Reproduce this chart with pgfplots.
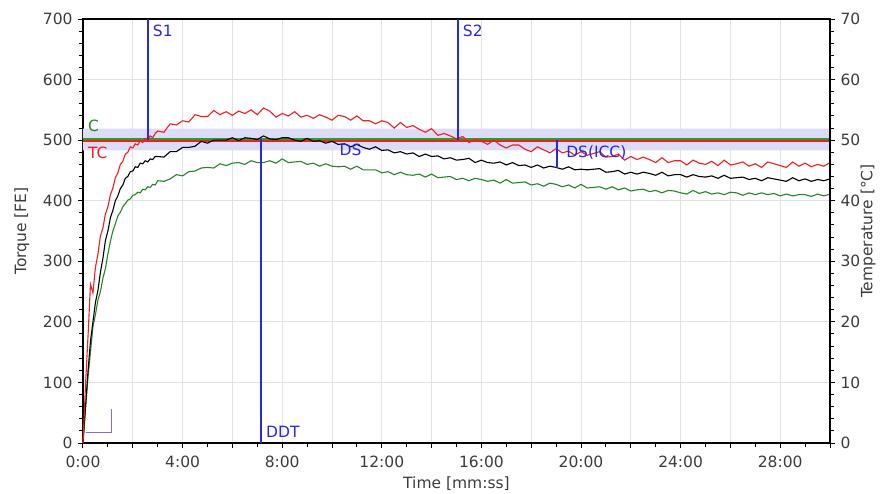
\documentclass[border=0pt]{standalone}
\usepackage{fontspec}
\setmainfont{DejaVu Sans}
\usepackage{pgfplots}
\pgfplotsset{compat=1.18}
\usepackage{pgfplotstable}
\definecolor{cred}{RGB}{240,30,30}
\definecolor{cgreen}{RGB}{35,135,35}
\definecolor{chl}{RGB}{40,160,40}
\definecolor{cblue}{RGB}{40,40,225}
\definecolor{cband}{RGB}{220,220,246}
\definecolor{cgrid}{RGB}{226,226,226}
\definecolor{ctext}{RGB}{60,60,60}
\definecolor{cstep}{RGB}{135,105,230}
\newcommand{\fs}{\fontsize{15.5bp}{18bp}\selectfont}
\pgfplotstableread{
t R B G
0.0 0 0 0
0.1 95 60 55
0.2 175 118 108
0.3 262 168 150
0.4 248 200 192
0.5 290 232 212
0.6 312 252 236
0.7 342 282 250
0.8 355 305 272
0.9 378 334 288
1.0 390 350 312
1.1 410 372 333
1.2 421 384 350
1.3 438 400 362
1.4 446 408 375
1.5 460 420 381
1.6 465 426 390
1.7 477 437 395
1.8 480 440 401
1.9 489 448 403
2.0 487 449 409
2.1 494 456 410
2.2 492 455 414
2.3 499 462 413
2.4 496 461 419
2.5 503 466 418
2.6 499 464 423
2.7 507 469 422
2.8 504 468 427
2.9 511 473 426
3.00 515 473 433
3.25 513 472 432
3.50 527 481 436
3.75 525 481 443
4.00 532 488 441
4.25 530 488 448
4.50 542 490 449
4.75 539 498 454
5.00 539 495 455
5.25 549 500 454
5.50 542 500 461
5.75 547 500 458
6.00 541 504 462
6.25 548 499 463
6.50 544 504 460
6.75 550 503 466
7.00 542 501 463
7.25 553 507 463
7.50 548 502 466
7.75 538 501 462
8.00 544 504 469
8.25 540 504 463
8.50 547 500 464
8.75 538 498 465
9.00 541 503 460
9.25 536 498 462
9.50 542 499 457
9.75 538 495 461
10.00 533 498 457
10.25 541 493 456
10.50 539 494 457
10.75 533 489 452
11.00 540 493 457
11.25 532 488 451
11.50 532 485 451
11.75 527 489 451
12.00 532 483 446
12.25 529 484 448
12.50 520 479 443
12.75 529 481 447
13.00 521 477 443
13.25 524 479 442
13.50 518 473 444
13.75 513 477 439
14.00 519 473 444
14.25 508 474 438
14.50 511 469 439
14.75 507 471 440
15.00 502 467 435
15.25 506 468 437
15.50 496 470 433
15.75 502 463 437
16.00 498 467 435
16.25 493 463 432
16.50 500 462 434
16.75 492 464 429
17.00 487 459 435
17.25 492 463 429
17.50 492 458 430
17.75 485 459 431
18.00 481 455 426
18.25 489 459 428
18.50 484 454 424
18.75 479 457 429
19.00 486 455 427
19.25 479 452 423
19.50 482 456 426
19.75 475 451 421
20.00 481 452 427
20.25 475 451 421
20.50 478 452 422
20.75 481 453 423
21.00 472 447 419
21.25 473 448 423
21.50 477 450 418
21.75 467 444 421
22.00 473 447 416
22.25 468 444 418
22.50 472 447 419
22.75 468 445 415
23.00 463 442 417
23.25 471 447 413
23.50 463 441 417
23.75 466 443 416
24.00 466 443 413
24.25 459 439 411
24.50 467 443 417
24.75 462 440 412
25.00 460 439 415
25.25 465 441 411
25.50 458 437 413
25.75 467 442 410
26.00 459 437 414
26.25 461 438 413
26.50 464 439 409
26.75 457 435 413
27.00 461 437 410
27.25 455 433 413
27.50 464 438 410
27.75 461 436 412
28.00 458 434 408
28.25 455 432 411
28.50 464 438 408
28.75 457 433 410
29.00 462 436 410
29.25 456 432 407
29.50 460 435 411
29.75 457 433 408
30.00 463 436 411
}\curves
\begin{document}
\begin{tikzpicture}
\useasboundingbox (-83bp,-51bp) rectangle (797bp,443bp);
\begin{axis}[
  at={(0,0)}, anchor=south west,
  scale only axis, width=747bp, height=424bp,
  xmin=0, xmax=30, ymin=0, ymax=700,
  xtick pos=left, ytick pos=left, tick align=outside,
  xtick={0,2,...,30},
  xticklabels={0:00,,4:00,,8:00,,12:00,,16:00,,20:00,,24:00,,28:00,},
  minor x tick num=1,
  ytick={0,100,...,700}, minor y tick num=4,
  /pgf/number format/assume math mode=true,
  grid=major, major grid style={cgrid, line width=0.9bp},
  axis line style={line width=1.6bp, black},
  major tick length=5bp, minor tick length=4bp,
  every tick/.style={black, line width=1bp},
  tick label style={font=\fs, text=ctext},
  yticklabel style={xshift=-2bp},
  xticklabel shift=4bp,
  label style={font=\fs, text=ctext},
  xlabel={Time [mm:ss]}, ylabel={Torque [FE]},
  xlabel style={at={(axis description cs:0.5,-0.097)}, anchor=center},
  ylabel style={at={(axis description cs:-0.082,0.5)}, anchor=center},
  clip=false,
]
\addplot[draw=none, fill=cband] coordinates {(0,483) (30,483) (30,519) (0,519) (0,483)};
\addplot[chl, line width=2bp] coordinates {(0,502) (30,502)};
\addplot[cred, line width=2bp] coordinates {(0,498) (30,498)};
\addplot[cgreen, line width=1.1bp] table[x=t, y=G] {\curves};
\addplot[black, line width=1.1bp] table[x=t, y=B] {\curves};
\addplot[cred, line width=1.1bp] table[x=t, y=R] {\curves};
\addplot[draw=cblue, line width=1.6bp] coordinates {(2.6,500) (2.6,700)};
\addplot[draw=cblue, line width=1.6bp] coordinates {(15.06,500) (15.06,700)};
\addplot[draw=cblue, line width=1.6bp] coordinates {(7.16,0) (7.16,502)};
\addplot[draw=cblue, line width=2bp] coordinates {(19.02,454) (19.02,500)};
\addplot[cstep, line width=1bp] coordinates {(0.12,17) (1.15,17) (1.15,56)};
\node[anchor=west, inner sep=0, font=\fs, text=cblue] at (axis cs:2.8,680) {S1};
\node[anchor=west, inner sep=0, font=\fs, text=cblue] at (axis cs:15.25,680) {S2};
\node[anchor=west, inner sep=0, font=\fs, text=cblue] at (axis cs:7.35,18) {DDT};
\node[anchor=west, inner sep=0, font=\fs, text=cblue] at (axis cs:10.3,484) {DS};
\node[anchor=west, inner sep=0, font=\fs, text=cblue] at (axis cs:19.4,480) {DS(ICC)};
\node[anchor=west, inner sep=0, font=\fs, text=cgreen] at (axis cs:0.2,523) {C};
\node[anchor=west, inner sep=0, font=\fs, text=cred] at (axis cs:0.2,479) {TC};
\end{axis}
\begin{axis}[
  at={(0,0)}, anchor=south west,
  scale only axis, width=747bp, height=424bp,
  xmin=0, xmax=30, ymin=0, ymax=70,
  axis x line=none, axis y line*=right,
  tick align=outside,
  ytick={0,10,...,70}, minor y tick num=4,
  /pgf/number format/assume math mode=true,
  axis line style={line width=1.6bp, black},
  major tick length=5bp, minor tick length=4bp,
  every tick/.style={black, line width=1bp},
  tick label style={font=\fs, text=ctext},
  yticklabel style={xshift=2bp},
  label style={font=\fs, text=ctext},
  ylabel={Temperature [°C]},
  ylabel style={at={(axis description cs:1.051,0.5)}, anchor=center},
]
\addplot[draw=none] coordinates {(0,0)};
\end{axis}
\end{tikzpicture}
\end{document}
